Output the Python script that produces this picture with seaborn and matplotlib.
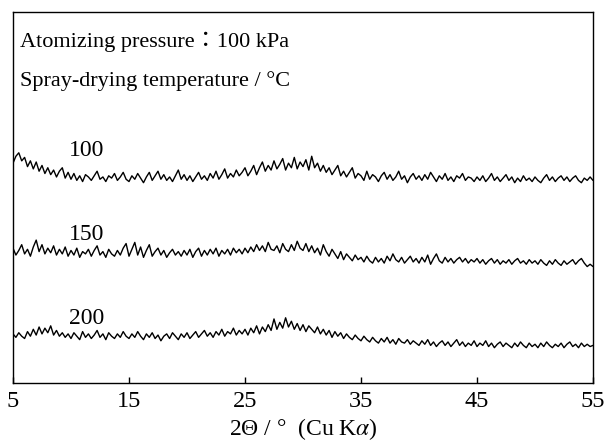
import numpy as np
import pandas as pd
import seaborn as sns
import matplotlib.pyplot as plt

# 2-theta grid of the scans (degrees, Cu K-alpha)
two_theta = np.arange(5.0, 55.01, 0.25)

# relative intensity (a.u.), 0.25 deg steps
int_100 = [
    19, 25, 28, 21, 24, 16, 21, 14, 20, 12, 17, 10, 15, 9, 13, 7, 12, 15, 6, 11,
    5, 10, 4, 8, 3, 9, 7, 4, 8, 12, 5, 7, 3, 8, 6, 10, 4, 7, 11, 5,
    3, 8, 5, 10, 6, 2, 7, 11, 4, 8, 12, 5, 9, 4, 7, 3, 8, 13, 5, 9,
    4, 8, 3, 7, 11, 5, 8, 4, 10, 6, 12, 5, 9, 14, 6, 10, 7, 13, 8, 11,
    15, 8, 12, 17, 9, 15, 20, 12, 17, 13, 21, 14, 18, 23, 13, 19, 15, 24, 14, 20,
    16, 22, 13, 25, 15, 19, 12, 17, 11, 15, 9, 13, 17, 8, 12, 7, 11, 15, 6, 10,
    8, 4, 12, 5, 9, 7, 3, 8, 11, 5, 9, 4, 7, 12, 5, 8, 2, 7, 10, 5,
    8, 4, 9, 5, 11, 7, 3, 8, 5, 10, 4, 7, 3, 8, 6, 10, 4, 7, 6, 3,
    7, 4, 8, 3, 6, 10, 4, 7, 3, 6, 9, 4, 7, 2, 6, 3, 8, 4, 6, 3,
    7, 4, 2, 6, 9, 4, 7, 3, 6, 8, 4, 7, 3, 6, 8, 4, 2, 6, 4, 7,
    4,
]
int_150 = [
    19, 13, 17, 22, 14, 18, 12, 20, 26, 16, 22, 14, 19, 15, 21, 13, 18, 14, 20, 12,
    17, 13, 19, 11, 16, 14, 18, 12, 17, 21, 13, 16, 11, 18, 14, 12, 17, 13, 19, 23,
    12, 18, 24, 13, 20, 11, 17, 22, 12, 16, 19, 13, 17, 11, 15, 18, 13, 16, 12, 17,
    13, 18, 11, 16, 19, 12, 17, 13, 18, 14, 19, 12, 17, 14, 18, 13, 19, 15, 18, 14,
    19, 15, 20, 16, 22, 17, 21, 16, 24, 18, 17, 21, 15, 23, 18, 16, 22, 17, 25, 19,
    17, 23, 16, 21, 15, 19, 13, 22, 16, 12, 18, 14, 10, 16, 9, 14, 11, 8, 13, 9,
    11, 7, 12, 8, 6, 11, 7, 10, 6, 12, 8, 14, 9, 7, 11, 6, 9, 12, 7, 10,
    6, 11, 7, 13, 5, 10, 14, 8, 6, 11, 7, 10, 6, 9, 11, 7, 10, 6, 9, 7,
    10, 6, 9, 5, 8, 10, 6, 9, 5, 8, 6, 9, 5, 8, 10, 6, 8, 5, 9, 6,
    8, 5, 9, 6, 4, 8, 5, 9, 6, 4, 8, 5, 7, 9, 5, 8, 10, 6, 3, 5,
    3,
]
int_200 = [
    14, 11, 15, 12, 10, 16, 12, 18, 13, 20, 14, 19, 15, 21, 13, 17, 12, 15, 11, 14,
    10, 15, 12, 9, 16, 11, 14, 10, 13, 17, 11, 14, 9, 15, 12, 10, 14, 11, 16, 12,
    10, 14, 11, 16, 12, 9, 14, 11, 15, 10, 13, 8, 12, 14, 10, 15, 12, 9, 14, 11,
    15, 10, 13, 16, 11, 14, 17, 12, 15, 11, 16, 13, 18, 12, 16, 14, 19, 13, 17, 14,
    18, 13, 19, 15, 21, 14, 20, 16, 22, 17, 27, 18, 24, 19, 28, 20, 25, 18, 23, 17,
    22, 16, 21, 18, 15, 20, 14, 18, 13, 17, 11, 16, 12, 15, 10, 14, 11, 9, 13, 10,
    8, 12, 9, 7, 11, 8, 6, 10, 7, 11, 6, 9, 5, 10, 7, 6, 9, 5, 8, 6,
    4, 8, 5, 9, 4, 7, 3, 6, 8, 4, 7, 3, 6, 9, 4, 7, 3, 6, 4, 8,
    3, 6, 4, 8, 3, 6, 2, 5, 7, 3, 6, 4, 2, 6, 3, 7, 4, 2, 6, 3,
    5, 2, 6, 3, 7, 4, 2, 5, 3, 6, 2, 5, 7, 3, 5, 2, 6, 3, 5, 3,
    4,
]

temps = ["100", "150", "200"]
x_ticks = [5, 15, 25, 35, 45, 55]

# vertical stacking of the patterns (axes fraction of each baseline)
Y_SCALE = 1.15
BASE_FRAC = {"100": 198 / 371, "150": 113 / 371, "200": 33 / 371}
LABEL_FRAC = {"100": 233 / 371, "150": 148 / 371, "200": 65 / 371}
Y_TOP = 371 / Y_SCALE


def build_frame():
    """Long table of all scans, shifted for stacking."""
    parts = []
    for t, vals in zip(temps, [int_100, int_150, int_200]):
        parts.append(pd.DataFrame({
            "two_theta": two_theta,
            "intensity": np.array(vals) + BASE_FRAC[t] * Y_TOP,
            "temp": t,
        }))
    return pd.concat(parts, ignore_index=True)


def main():
    sns.set_theme(style="ticks")
    plt.rcParams["font.family"] = ["Liberation Serif", "Noto Sans CJK JP"]
    plt.rcParams["mathtext.fontset"] = "stix"

    df = build_frame()

    fig = plt.figure(figsize=(6.07, 4.41), dpi=100)
    ax = fig.add_axes([13 / 607, 58 / 441, 580 / 607, 371 / 441])

    sns.lineplot(data=df, x="two_theta", y="intensity", units="temp",
                 estimator=None, color="black", linewidth=1.0, ax=ax)

    ax.set_xlim(5, 55)
    ax.set_ylim(0, Y_TOP)
    ax.set_xticks(x_ticks)
    ax.set_xticklabels([str(v) for v in x_ticks])
    ax.set_yticks([])
    ax.tick_params(axis="x", direction="in", length=4.5, width=1,
                   pad=6, labelsize=17.5, colors="black")
    for s in ax.spines.values():
        s.set_visible(True)
        s.set_linewidth(1)
        s.set_color("black")

    ax.set_ylabel("")
    ax.set_xlabel("2Θ / °  (Cu K$\\alpha$)", fontsize=17, labelpad=3,
                  color="black")

    ax.text(0.012, 0.92, "Atomizing pressure：100 kPa", fontsize=16,
            va="center", ha="left", color="black", transform=ax.transAxes)
    ax.text(0.012, 0.815, "Spray-drying temperature / °C", fontsize=16,
            va="center", ha="left", color="black", transform=ax.transAxes)
    for t in temps:
        ax.text(0.097, LABEL_FRAC[t], t, fontsize=17, va="center", ha="left",
                color="black", transform=ax.transAxes)

    fig.savefig("out.png", dpi=100)
    plt.close(fig)


if __name__ == "__main__":
    main()
